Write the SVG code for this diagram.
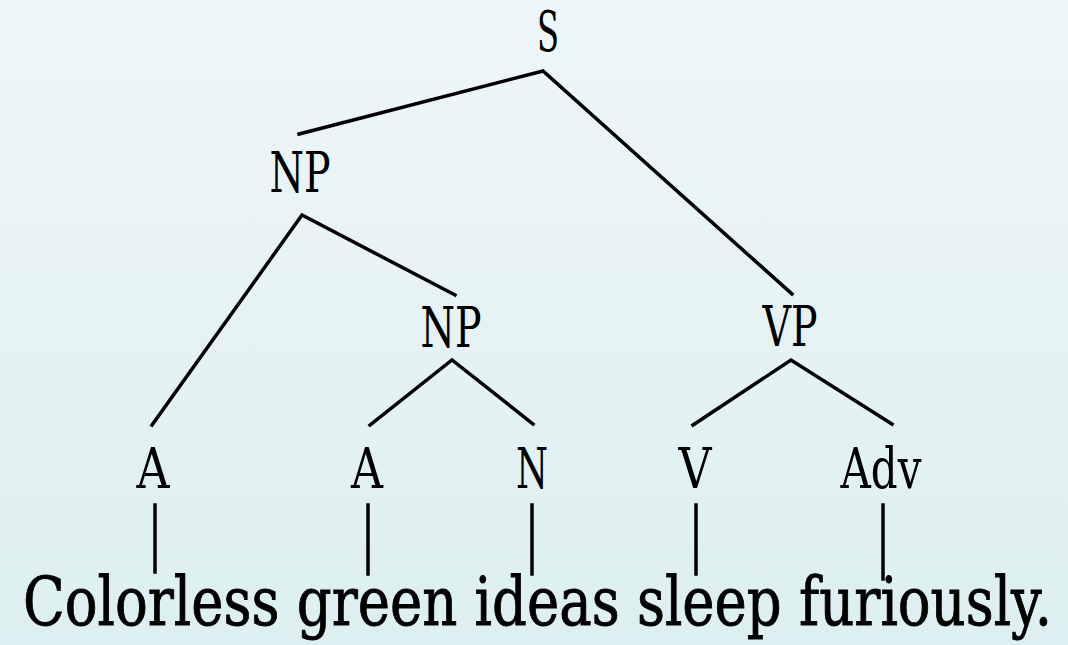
<svg xmlns="http://www.w3.org/2000/svg" width="1068" height="645" viewBox="0 0 1068 645">
  <defs>
    <linearGradient id="bg" x1="0" y1="0" x2="0" y2="1">
      <stop offset="0" stop-color="#eef6f9"/>
      <stop offset="1" stop-color="#ddeff0"/>
    </linearGradient>
    <style>
      .lbl { font-family: 'DejaVu Serif', 'Liberation Serif', serif; font-size: 56px; fill: #000; text-anchor: middle; }
      .sent { font-family: 'DejaVu Serif', 'Liberation Serif', serif; font-size: 67px; fill: #000; stroke: #000; stroke-width: 0.9; }
      .edge { stroke: #000; stroke-width: 3.5; fill: none; stroke-linecap: square; stroke-linejoin: miter; }
    </style>
  </defs>
  <rect width="1068" height="645" fill="url(#bg)"/>

  <g id="connectors">
    <polyline class="edge" points="299,134 543,71 792,294"/>
    <polyline class="edge" points="152,425 302,215 455,295"/>
    <polyline class="edge" points="370,425 452,360 533,424"/>
    <polyline class="edge" points="693,425 791,360 892,424"/>
    <line class="edge" x1="155" y1="505" x2="155" y2="572"/>
    <line class="edge" x1="368" y1="505" x2="368" y2="574"/>
    <line class="edge" x1="532" y1="505" x2="532" y2="574"/>
    <line class="edge" x1="696" y1="505" x2="696" y2="574"/>
    <line class="edge" x1="883" y1="505" x2="883" y2="579"/>
  </g>

  <g id="node-S"><text class="lbl" x="548" y="51" textLength="22" lengthAdjust="spacingAndGlyphs">S</text></g>
  <g id="node-NP1"><text class="lbl" x="300" y="192" textLength="61" lengthAdjust="spacingAndGlyphs">NP</text></g>
  <g id="node-NP2"><text class="lbl" x="451" y="347" textLength="61" lengthAdjust="spacingAndGlyphs">NP</text></g>
  <g id="node-VP"><text class="lbl" x="790" y="346" textLength="55" lengthAdjust="spacingAndGlyphs">VP</text></g>
  <g id="node-A1"><text class="lbl" x="153" y="488" textLength="33" lengthAdjust="spacingAndGlyphs">A</text></g>
  <g id="node-A2"><text class="lbl" x="367" y="488" textLength="32" lengthAdjust="spacingAndGlyphs">A</text></g>
  <g id="node-N"><text class="lbl" x="532" y="488" textLength="32" lengthAdjust="spacingAndGlyphs">N</text></g>
  <g id="node-V"><text class="lbl" x="695" y="488" textLength="33" lengthAdjust="spacingAndGlyphs">V</text></g>
  <g id="node-Adv"><text class="lbl" x="881" y="488" textLength="81" lengthAdjust="spacingAndGlyphs">Adv</text></g>

  <g id="sentence"><text class="sent" x="23" y="625" textLength="1029" lengthAdjust="spacingAndGlyphs">Colorless green ideas sleep furiously.</text></g>
</svg>
